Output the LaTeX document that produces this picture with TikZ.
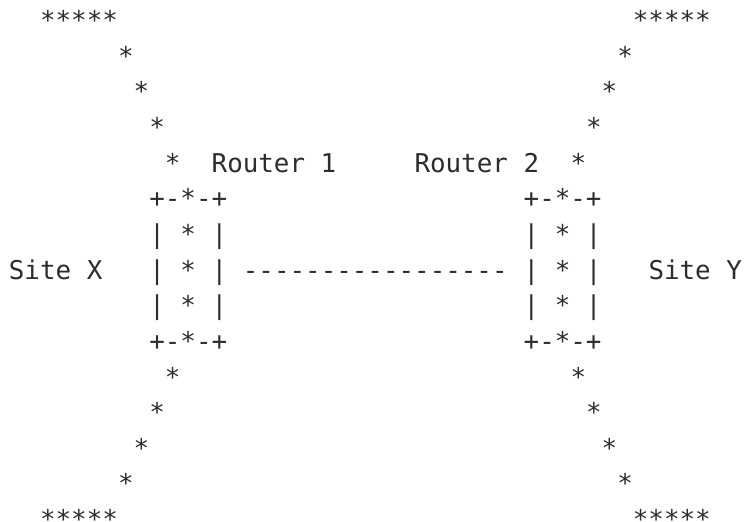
\documentclass[tikz,border=0pt]{standalone}
\usepackage{fontspec}
\setmonofont{DejaVu Sans Mono}
\definecolor{txt}{RGB}{45,45,45}
\newcommand\Cx[1]{8.9+15.6*#1}
\newcommand\Ry[1]{29.6+35.64*#1}
\tikzset{asc/.style={anchor=base west, inner sep=0pt, outer sep=0pt, text=txt,
  font=\ttfamily\fontsize{19.4pt}{23pt}\selectfont}}
\begin{document}
\begin{tikzpicture}[x=0.75pt,y=-0.75pt]
\useasboundingbox (0,0) rectangle (744,522);
% left side
\node[asc] (tl0) at ({\Cx{2}},{\Ry{0}}) {*****};
\node[asc] (tl1) at ({\Cx{7}},{\Ry{1}}) {*};
\node[asc] (tl2) at ({\Cx{8}},{\Ry{2}}) {*};
\node[asc] (tl3) at ({\Cx{9}},{\Ry{3}}) {*};
\node[asc] (tl4) at ({\Cx{10}},{\Ry{4}}) {*};
\node[asc] (r1) at ({\Cx{13}},{\Ry{4}}) {Router 1};
\node[asc] (r2) at ({\Cx{26}},{\Ry{4}}) {Router 2};
% right side top
\node[asc] (tr0) at ({\Cx{40}},{\Ry{0}}) {*****};
\node[asc] (tr1) at ({\Cx{39}},{\Ry{1}}) {*};
\node[asc] (tr2) at ({\Cx{38}},{\Ry{2}}) {*};
\node[asc] (tr3) at ({\Cx{37}},{\Ry{3}}) {*};
\node[asc] (tr4) at ({\Cx{36}},{\Ry{4}}) {*};
% boxes
\node[asc] (b1a) at ({\Cx{9}},{\Ry{5}}) {+-*-+};
\node[asc] (b1b) at ({\Cx{9}},{\Ry{6}}) {| * |};
\node[asc] (b1c) at ({\Cx{9}},{\Ry{7}}) {| * |};
\node[asc] (b1d) at ({\Cx{9}},{\Ry{8}}) {| * |};
\node[asc] (b1e) at ({\Cx{9}},{\Ry{9}}) {+-*-+};
\node[asc] (b2a) at ({\Cx{33}},{\Ry{5}}) {+-*-+};
\node[asc] (b2b) at ({\Cx{33}},{\Ry{6}}) {| * |};
\node[asc] (b2c) at ({\Cx{33}},{\Ry{7}}) {| * |};
\node[asc] (b2d) at ({\Cx{33}},{\Ry{8}}) {| * |};
\node[asc] (b2e) at ({\Cx{33}},{\Ry{9}}) {+-*-+};
% middle row
\node[asc] (sx) at ({\Cx{0}},{\Ry{7}}) {Site X};
\node[asc] (link) at ({\Cx{15}},{\Ry{7}}) {-----------------};
\node[asc] (sy) at ({\Cx{41}},{\Ry{7}}) {Site Y};
% bottom
\node[asc] (bl0) at ({\Cx{10}},{\Ry{10}}) {*};
\node[asc] (bl1) at ({\Cx{9}},{\Ry{11}}) {*};
\node[asc] (bl2) at ({\Cx{8}},{\Ry{12}}) {*};
\node[asc] (bl3) at ({\Cx{7}},{\Ry{13}}) {*};
\node[asc] (bl4) at ({\Cx{2}},{\Ry{14}}) {*****};
\node[asc] (br0) at ({\Cx{36}},{\Ry{10}}) {*};
\node[asc] (br1) at ({\Cx{37}},{\Ry{11}}) {*};
\node[asc] (br2) at ({\Cx{38}},{\Ry{12}}) {*};
\node[asc] (br3) at ({\Cx{39}},{\Ry{13}}) {*};
\node[asc] (br4) at ({\Cx{40}},{\Ry{14}}) {*****};
\end{tikzpicture}
\end{document}
